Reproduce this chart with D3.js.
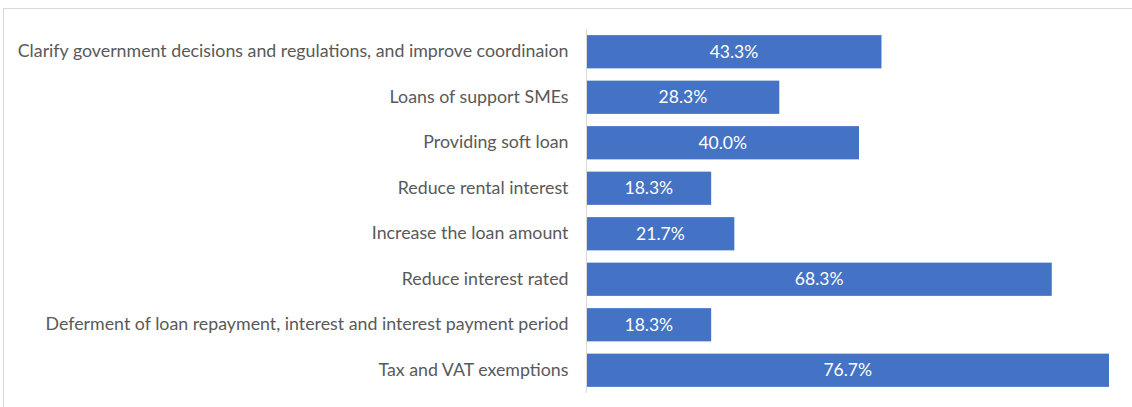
<!DOCTYPE html>
<html>
<head>
<meta charset="utf-8">
<script src="https://cdn.jsdelivr.net/npm/d3@7"></script>
<style>
  html, body { margin: 0; padding: 0; background: #fff; }
  svg { display: block; font-family: Lato, "Open Sans", sans-serif; }
</style>
</head>
<body>
<svg class="bar-chart"></svg>
<script>
'use strict';

var categories = [
    'Clarify government decisions and regulations, and improve coordinaion',
    'Loans of support SMEs',
    'Providing soft loan',
    'Reduce rental interest',
    'Increase the loan amount',
    'Reduce interest rated',
    'Deferment of loan repayment, interest and interest payment period',
    'Tax and VAT exemptions'
];
var values = [43.3, 28.3, 40.0, 18.3, 21.7, 68.3, 18.3, 76.7];

var drawChart = function() {
    var svgWidth = 1132,
        svgHeight = 407,
        axisX = 586.5;

    var svg = d3.select('svg.bar-chart')
        .attr('width', svgWidth)
        .attr('height', svgHeight);

    // chart frame (cropped on right and bottom)
    svg.append('rect')
        .attr('x', 3.5).attr('y', 8.5)
        .attr('width', 1140).attr('height', 420)
        .attr('fill', '#fff')
        .attr('stroke', '#d9d9d9')
        .attr('stroke-width', 1);

    var xScale = d3.scaleLinear().domain([0, 76.7]).range([axisX, 1109]);

    var yScale = d3.scaleBand()
        .domain(categories)
        .range([29, 393])
        .paddingInner(0.27)
        .paddingOuter(0.135);

    var yAxis = d3.axisLeft(yScale).tickSize(0).tickPadding(18);

    var g = svg.append('g');

    g.selectAll('rect.bar')
        .data(values)
        .enter().append('rect')
        .attr('class', 'bar')
        .attr('x', xScale(0))
        .attr('y', function(d, i) { return yScale(categories[i]); })
        .attr('width', function(d) { return xScale(d) - xScale(0); })
        .attr('height', yScale.bandwidth())
        .attr('fill', '#4472c4');

    g.selectAll('text.val')
        .data(values)
        .enter().append('text')
        .attr('class', 'val')
        .attr('x', function(d) { return (xScale(0) + xScale(d)) / 2; })
        .attr('y', function(d, i) { return yScale(categories[i]) + yScale.bandwidth() / 2; })
        .attr('dy', '0.35em')
        .attr('text-anchor', 'middle')
        .attr('fill', '#fff')
        .style('font-size', '17.5px')
        .text(function(d) { return d.toFixed(1) + '%'; });

    var ax = svg.append('g')
        .attr('transform', 'translate(' + axisX + ',0)')
        .call(yAxis)
        .attr('font-family', null)
        .attr('font-size', null);
    ax.select('.domain').attr('stroke', '#d9d9d9').attr('d', 'M0,29V393');
    ax.selectAll('text')
        .attr('fill', '#595959')
        .style('font-size', '17.8px');
};

drawChart();
</script>
</body>
</html>
